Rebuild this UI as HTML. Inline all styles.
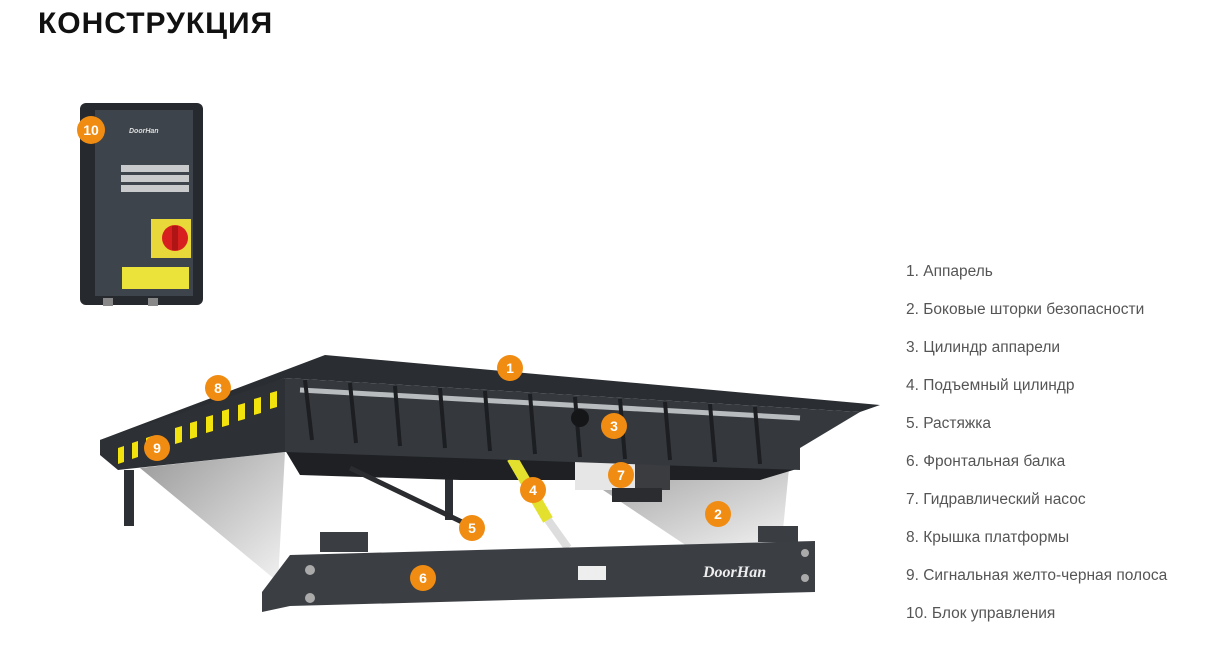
<!DOCTYPE html>
<html><head><meta charset="utf-8"><style>
body{margin:0;width:1213px;height:659px;background:#fff;overflow:hidden;position:relative;font-family:"Liberation Sans",sans-serif}
h1{position:absolute;left:38px;top:7px;margin:0;font-size:30px;font-weight:bold;color:#111;letter-spacing:1px}
.list{position:absolute;left:906px;top:262px;font-size:15.5px;color:#555}
.list div{height:38px;line-height:19px}
svg{position:absolute;left:0;top:0}
</style></head><body>
<h1>КОНСТРУКЦИЯ</h1>
<svg width="1213" height="659" viewBox="0 0 1213 659" font-family="Liberation Sans, sans-serif">
<defs>
<linearGradient id="cur" x1="0" y1="0" x2="1" y2="1"><stop offset="0" stop-color="#9a9a9a"/><stop offset="1" stop-color="#f2f2f2"/></linearGradient>
</defs>
<rect x="80" y="103" width="123" height="202" rx="6" fill="#26292d"/>
<rect x="95" y="110" width="98" height="186" fill="#3d444b"/>
<rect x="121" y="165" width="68" height="7" fill="#c9cacb"/>
<rect x="121" y="175" width="68" height="7" fill="#c9cacb"/>
<rect x="121" y="185" width="68" height="7" fill="#c9cacb"/>
<text x="129" y="133" font-size="7" fill="#ddd" font-style="italic" font-weight="bold">DoorHan</text>
<rect x="151" y="219" width="40" height="39" fill="#e8d83a"/>
<circle cx="175" cy="238" r="13" fill="#d81f1f"/>
<rect x="172" y="226" width="6" height="24" fill="#b01515"/>
<rect x="122" y="267" width="67" height="22" fill="#ece33a"/>
<rect x="103" y="298" width="10" height="8" fill="#888"/><rect x="148" y="298" width="10" height="8" fill="#888"/>
<polygon points="140,468 285,452 278,582" fill="url(#cur)"/>
<polygon points="570,468 790,458 782,540 690,548" fill="url(#cur)"/>
<rect x="124" y="470" width="10" height="56" fill="#2c2f33"/>
<rect x="445" y="470" width="8" height="50" fill="#2c2f33"/>
<polygon points="285,450 800,468 760,480 460,480 300,475" fill="#1e2023"/>
<line x1="350" y1="468" x2="462" y2="522" stroke="#2a2c2f" stroke-width="5"/>
<line x1="512" y1="458" x2="548" y2="520" stroke="#e3e12e" stroke-width="11"/>
<line x1="548" y1="520" x2="568" y2="548" stroke="#ddd" stroke-width="8"/>
<rect x="575" y="460" width="62" height="30" fill="#e6e6e6"/>
<rect x="635" y="462" width="35" height="28" fill="#3a3c40"/>
<rect x="612" y="488" width="50" height="14" fill="#2a2c2f"/>
<polygon points="100,440 325,355 880,405 860,412 285,378 105,448" fill="#2a2d31"/>
<polygon points="100,440 285,378 285,452 118,470 100,455" fill="#2d3034"/>
<g fill="#f2e20e">
<polygon points="118,448 124,446 124,462 118,464"/>
<polygon points="132,443 138,441 138,457 132,459"/>
<polygon points="146,438 152,436 152,452 146,454"/>
<polygon points="175,428 182,426 182,442 175,444"/>
<polygon points="190,423 197,421 197,437 190,439"/>
<polygon points="206,417 213,415 213,431 206,433"/>
<polygon points="222,411 229,409 229,425 222,427"/>
<polygon points="238,405 245,403 245,419 238,421"/>
<polygon points="254,399 261,397 261,413 254,415"/>
<polygon points="270,393 277,391 277,407 270,409"/>
</g>
<polygon points="285,378 860,412 800,448 800,470 285,452" fill="#35393e"/>
<line x1="300" y1="390" x2="800" y2="418" stroke="#b9bcbf" stroke-width="5"/>
<g stroke="#1c1e21" stroke-width="4">
<line x1="305" y1="380" x2="312" y2="440"/><line x1="350" y1="383" x2="356" y2="443"/><line x1="395" y1="386" x2="400" y2="446"/><line x1="440" y1="388" x2="445" y2="448"/><line x1="485" y1="391" x2="490" y2="451"/><line x1="530" y1="394" x2="535" y2="454"/><line x1="575" y1="397" x2="580" y2="457"/><line x1="620" y1="399" x2="625" y2="459"/><line x1="665" y1="402" x2="670" y2="460"/><line x1="710" y1="404" x2="715" y2="462"/><line x1="755" y1="407" x2="760" y2="464"/>
</g>
<circle cx="580" cy="418" r="9" fill="#151618"/>
<rect x="320" y="532" width="48" height="20" fill="#3a3d41"/>
<rect x="758" y="526" width="40" height="16" fill="#3a3d41"/>
<polygon points="262,592 290,555 815,541 815,592 290,606 262,612" fill="#3b3f44"/>
<rect x="578" y="566" width="28" height="14" fill="#eee"/>
<text x="703" y="577" font-size="16" fill="#eee" font-weight="bold" font-style="italic" font-family="Liberation Serif, serif">DoorHan</text>
<circle cx="310" cy="570" r="5" fill="#aaa"/><circle cx="310" cy="598" r="5" fill="#aaa"/>
<circle cx="805" cy="553" r="4" fill="#aaa"/><circle cx="805" cy="578" r="4" fill="#aaa"/>
<g fill="#f08c12"><circle cx="510" cy="368" r="13"/><circle cx="718" cy="514" r="13"/><circle cx="614" cy="426" r="13"/><circle cx="533" cy="490" r="13"/><circle cx="472" cy="528" r="13"/><circle cx="423" cy="578" r="13"/><circle cx="621" cy="475" r="13"/><circle cx="218" cy="388" r="13"/><circle cx="157" cy="448" r="13"/><circle cx="91" cy="130" r="14"/></g>
<g fill="#fff" font-size="14" font-weight="bold" text-anchor="middle">
<text x="510" y="373">1</text><text x="718" y="519">2</text><text x="614" y="431">3</text><text x="533" y="495">4</text><text x="472" y="533">5</text><text x="423" y="583">6</text><text x="621" y="480">7</text><text x="218" y="393">8</text><text x="157" y="453">9</text><text x="91" y="135">10</text>
</g>
</svg>
<div class="list">
<div>1. Аппарель</div><div>2. Боковые шторки безопасности</div><div>3. Цилиндр аппарели</div><div>4. Подъемный цилиндр</div><div>5. Растяжка</div><div>6. Фронтальная балка</div><div>7. Гидравлический насос</div><div>8. Крышка платформы</div><div>9. Сигнальная желто-черная полоса</div><div>10. Блок управления</div>
</div>
</body></html>
